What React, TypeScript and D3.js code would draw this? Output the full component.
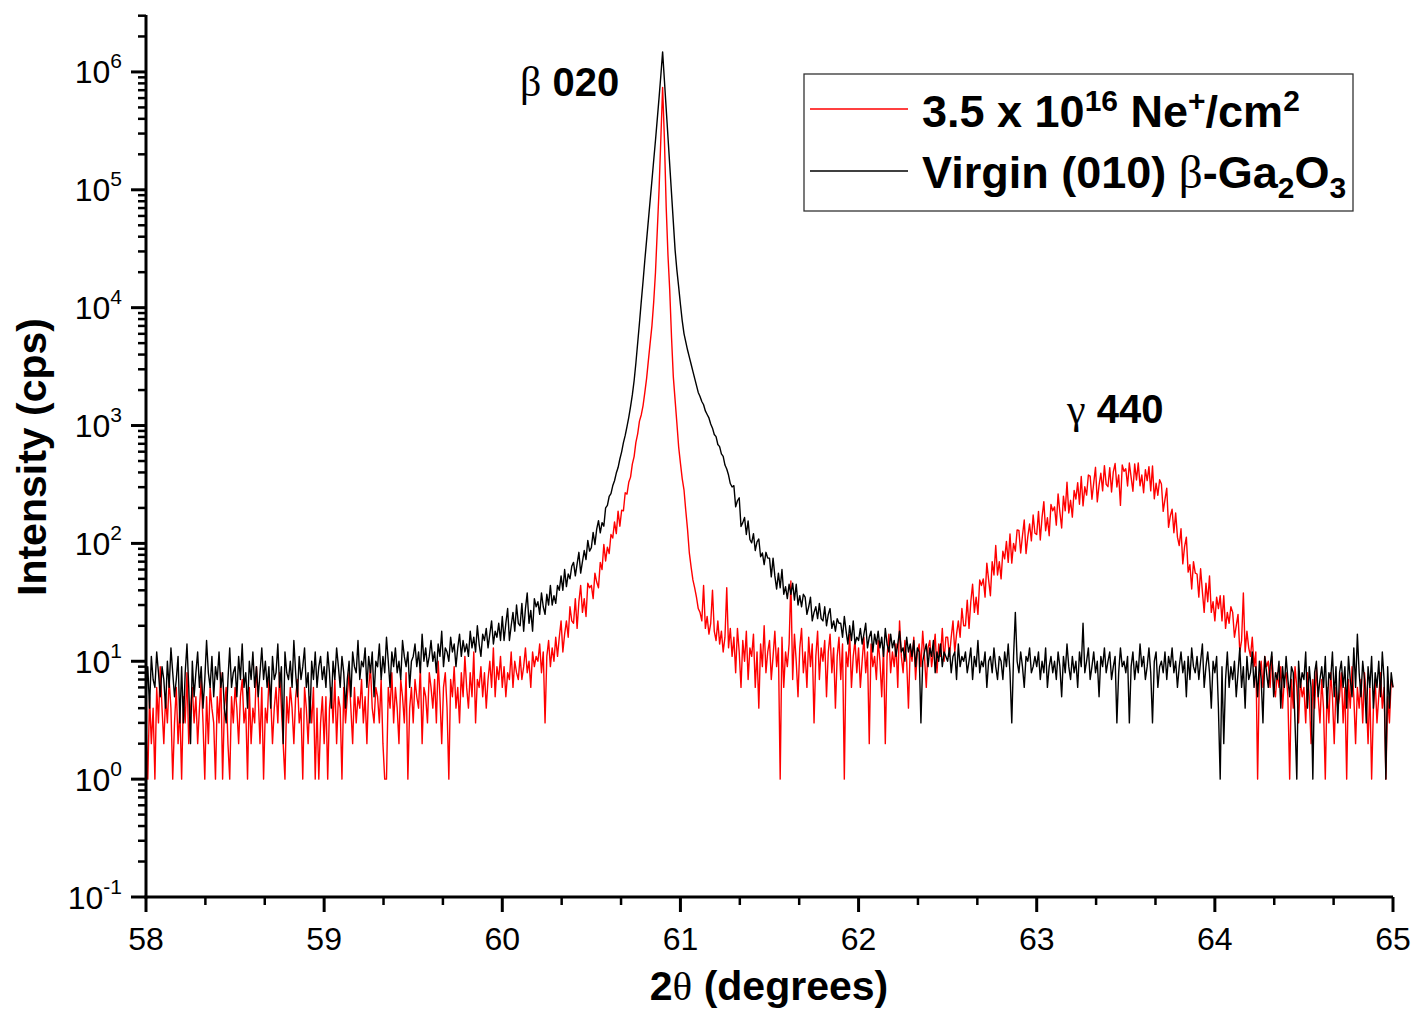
import React from 'react';
import * as d3 from 'd3';

// Sampling grid of the scans (2θ start and step, degrees)
const X_START = 58;
const X_STEP = 0.01;

// Virgin (010) β-Ga2O3 — intensity (cps), one array per degree (0.01° steps)
const virgin58 = [
  5, 9, 4, 11, 7, 6, 12, 8, 5, 9,
  7, 4, 10, 6, 13, 8, 5, 7, 11, 3,
  9, 3, 8, 14, 6, 2, 10, 5, 8, 12,
  6, 9, 4, 7, 15, 8, 6, 11, 5, 9,
  7, 12, 6, 8, 4, 3, 7, 13, 6, 8,
  9, 5, 11, 7, 14, 6, 8, 4, 10, 7,
  12, 6, 9, 5, 8, 13, 7, 10, 6, 9,
  4, 11, 7, 8, 14, 6, 9, 2, 12, 8,
  7, 10, 6, 15, 8, 5, 11, 7, 9, 13,
  6, 8, 3, 10, 7, 12, 6, 9, 11, 7,
];
const virgin59 = [
  9, 6, 12, 8, 4, 10, 7, 13, 9, 6,
  11, 8, 4, 7, 10, 5, 12, 9, 8, 15,
  7, 10, 9, 13, 6, 11, 8, 12, 5, 10,
  9, 14, 7, 11, 8, 16, 10, 6, 12, 9,
  13, 8, 10, 7, 15, 11, 9, 12, 6, 10,
  11, 14, 9, 12, 8, 17, 10, 13, 9, 11,
  15, 10, 12, 8, 14, 11, 18, 9, 13, 12,
  10, 16, 12, 14, 9, 13, 17, 11, 15, 12,
  14, 11, 18, 13, 16, 12, 20, 14, 11, 17,
  15, 19, 13, 17, 22, 14, 18, 16, 21, 15,
];
const virgin60 = [
  24, 15, 21, 28, 15, 20, 26, 18, 30, 21,
  20, 31, 18, 28, 38, 21, 27, 18, 34, 29,
  32, 25, 38, 29, 25, 37, 30, 44, 30, 36,
  31, 44, 40, 53, 40, 60, 43, 55, 50, 64,
  69, 53, 67, 84, 56, 70, 87, 73, 106, 86,
  92, 124, 98, 132, 156, 123, 150, 140, 200, 210,
  250, 264, 308, 340, 395, 440, 520, 598, 715, 825,
  977, 1175, 1445, 1820, 2400, 3390, 5010, 7410, 11200, 16600,
  25100, 37200, 55000, 81300, 120000, 178000, 263000, 398000, 603000, 933000,
  1480000, 851000, 490000, 282000, 162000, 93300, 53700, 30900, 20900, 15100,
];
const virgin61 = [
  10700, 7760, 6030, 5130, 4370, 3800, 3310, 2880, 2510, 2190,
  1910, 1760, 1600, 1500, 1330, 1240, 1160, 1030, 950, 840,
  805, 690, 662, 575, 548, 462, 428, 380, 322, 301,
  309, 204, 230, 244, 139, 150, 166, 119, 155, 108,
  101, 121, 87, 103, 109, 77, 83, 66, 84, 75,
  75, 52, 75, 53, 41, 56, 42, 60, 37, 43,
  34, 45, 37, 46, 33, 45, 30, 36, 29, 37,
  35, 25, 29, 35, 22, 26, 29, 23, 31, 23,
  22, 29, 20, 25, 28, 19, 22, 18, 23, 21,
  21, 16, 24, 18, 14, 20, 15, 22, 14, 16,
];
const virgin62 = [
  15, 19, 14, 17, 21, 13, 16, 18, 12, 17,
  14, 18, 13, 16, 11, 19, 14, 12, 17, 13,
  15, 11, 14, 18, 12, 13, 10, 16, 12, 14,
  11, 15, 9, 13, 12, 3, 10, 12, 14, 9,
  13, 11, 15, 8, 12, 10, 14, 9, 12, 11,
  10, 13, 8, 11, 12, 7, 14, 9, 11, 10,
  12, 8, 10, 13, 7, 11, 9, 15, 8, 10,
  9, 12, 6, 10, 11, 8, 13, 9, 7, 11,
  10, 7, 12, 9, 14, 8, 3, 11, 26, 10,
  8, 12, 9, 6, 11, 10, 13, 8, 9, 11,
];
const virgin63 = [
  9, 12, 7, 10, 8, 13, 6, 9, 11, 8,
  10, 7, 12, 9, 5, 11, 8, 14, 9, 7,
  11, 8, 10, 6, 12, 9, 21, 8, 10, 13,
  7, 9, 12, 8, 10, 5, 11, 9, 13, 8,
  10, 12, 7, 9, 11, 3, 8, 13, 9, 10,
  8, 11, 3, 9, 12, 7, 10, 8, 14, 9,
  11, 7, 9, 13, 8, 3, 10, 12, 6, 9,
  10, 8, 12, 7, 11, 9, 13, 8, 10, 6,
  9, 12, 8, 10, 5, 11, 7, 13, 9, 8,
  11, 7, 10, 14, 6, 9, 12, 8, 4, 10,
];
const virgin64 = [
  8, 11, 4, 1, 9, 2, 7, 12, 6, 9,
  7, 10, 5, 8, 13, 6, 9, 4, 11, 7,
  8, 12, 6, 9, 5, 10, 7, 3, 11, 8,
  6, 9, 12, 5, 8, 7, 10, 4, 9, 6,
  11, 7, 5, 9, 8, 3, 1, 10, 6, 8,
  7, 12, 4, 9, 6, 1, 8, 10, 5, 7,
  9, 6, 11, 4, 8, 7, 12, 5, 9, 3,
  8, 10, 6, 9, 4, 11, 7, 5, 13, 6,
  17, 8, 5, 10, 7, 3, 9, 6, 11, 4,
  8, 6, 10, 5, 12, 7, 1, 9, 4, 8,
  6,
];

// 3.5 x 10^16 Ne+/cm^2 — intensity (cps), one array per degree (0.01° steps)
const ne58 = [
  3, 1, 5, 2, 4, 1, 6, 3, 9, 4,
  2, 5, 3, 7, 4, 1, 3, 6, 2, 4,
  1, 5, 3, 8, 2, 4, 6, 3, 5, 2,
  4, 7, 3, 1, 5, 2, 6, 4, 3, 1,
  5, 3, 8, 1, 4, 6, 2, 1, 5, 3,
  6, 4, 2, 5, 7, 3, 4, 1, 6, 2,
  4, 3, 9, 5, 2, 6, 1, 4, 3, 7,
  5, 2, 4, 6, 3, 8, 4, 2, 1, 5,
  3, 6, 4, 2, 5, 7, 3, 4, 1, 6,
  4, 2, 5, 3, 6, 1, 4, 1, 3, 5,
];
const ne59 = [
  2, 5, 1, 4, 6, 3, 7, 2, 5, 4,
  1, 6, 3, 5, 8, 4, 2, 6, 3, 5,
  4, 7, 3, 5, 2, 6, 9, 4, 3, 6,
  5, 3, 7, 2, 1, 1, 6, 4, 8, 3,
  6, 4, 2, 7, 5, 3, 8, 1, 4, 6,
  3, 7, 5, 4, 9, 2, 6, 5, 3, 8,
  6, 4, 7, 3, 10, 5, 2, 6, 8, 4,
  1, 7, 5, 9, 4, 6, 3, 8, 5, 11,
  6, 4, 8, 5, 12, 3, 7, 6, 9, 5,
  8, 4, 7, 10, 6, 13, 5, 9, 7, 11,
];
const ne60 = [
  6, 9, 5, 8, 7, 12, 6, 10, 8, 7,
  11, 7, 9, 13, 8, 10, 6, 12, 9, 11,
  10, 14, 8, 12, 3, 11, 15, 9, 13, 10,
  16, 11, 16, 22, 12, 17, 22, 16, 29, 22,
  21, 34, 19, 32, 44, 26, 34, 24, 46, 42,
  44, 34, 56, 47, 42, 69, 60, 98, 71, 93,
  82, 119, 111, 152, 121, 188, 140, 191, 189, 269,
  262, 330, 365, 470, 545, 720, 850, 1090, 1230, 1470,
  1900, 2500, 3550, 5000, 7000, 11200, 20000, 44700, 100000, 270000,
  740000, 270000, 72000, 28000, 14000, 5600, 2600, 1650, 1050, 660,
];
const ne61 = [
  480, 355, 285, 190, 131, 83, 63, 49, 42, 35,
  28, 26, 22, 44, 19, 24, 17, 21, 40, 18,
  15, 22, 14, 18, 12, 16, 42, 13, 19, 11,
  16, 8, 19, 12, 6, 15, 10, 18, 7, 13,
  11, 17, 6, 12, 4, 14, 9, 20, 8, 12,
  15, 7, 11, 18, 9, 13, 1, 16, 6, 12,
  9, 14, 48, 7, 17, 10, 5, 13, 19, 8,
  12, 6, 16, 9, 14, 3, 11, 18, 7, 13,
  10, 15, 5, 12, 17, 8, 13, 4, 11, 16,
  7, 14, 1, 12, 9, 17, 6, 11, 15, 8,
];
const ne62 = [
  13, 6, 10, 16, 8, 12, 2, 14, 9, 11,
  7, 15, 10, 5, 13, 2, 11, 17, 8, 12,
  9, 14, 6, 22, 11, 8, 15, 10, 4, 13,
  10, 16, 7, 12, 14, 9, 18, 11, 6, 13,
  15, 9, 12, 17, 8, 14, 11, 19, 10, 16,
  16, 11, 16, 22, 12, 17, 22, 16, 28, 20,
  20, 33, 19, 32, 45, 26, 35, 25, 49, 44,
  50, 35, 68, 49, 36, 70, 54, 96, 54, 70,
  50, 86, 74, 104, 69, 120, 68, 100, 86, 130,
  129, 83, 116, 158, 82, 114, 146, 105, 174, 122,
];
const ne63 = [
  119, 187, 107, 167, 226, 128, 165, 116, 214, 189,
  204, 143, 263, 184, 135, 252, 189, 330, 181, 232,
  167, 281, 238, 328, 215, 370, 208, 302, 257, 380,
  373, 237, 326, 442, 225, 312, 394, 279, 457, 317,
  303, 439, 273, 405, 476, 301, 380, 210, 463, 408,
  430, 307, 481, 363, 277, 473, 345, 482, 308, 380,
  269, 422, 341, 448, 279, 453, 239, 324, 256, 347,
  319, 187, 236, 294, 137, 171, 195, 123, 181, 113,
  96, 133, 67, 94, 113, 57, 66, 41, 70, 56,
  55, 35, 61, 39, 26, 46, 32, 53, 26, 32,
];
const ne64 = [
  22, 35, 28, 36, 22, 36, 19, 26, 21, 29,
  26, 16, 20, 25, 12, 15, 38, 12, 18, 13,
  11, 16, 9, 12, 1, 8, 10, 6, 11, 9,
  10, 6, 11, 6, 5, 8, 6, 9, 4, 7,
  8, 5, 1, 7, 4, 9, 6, 3, 7, 5,
  6, 3, 8, 5, 2, 7, 4, 9, 5, 3,
  7, 4, 1, 6, 3, 8, 5, 2, 6, 4,
  5, 8, 3, 6, 1, 7, 4, 9, 5, 2,
  6, 4, 7, 3, 8, 5, 2, 6, 1, 4,
  7, 3, 5, 8, 4, 6, 1, 5, 3, 7,
  6,
];

const xMajorTicks = [58, 59, 60, 61, 62, 63, 64, 65];
const yDecadeExponents = [-1, 0, 1, 2, 3, 4, 5, 6];

const legendLabels = ['3.5 x 10', 'Virgin (010) '];
const peakLabels = [
  { greek: 'β', hkl: '020', x: 60.1, y: 6.2e5 },
  { greek: 'γ', hkl: '440', x: 63.17, y: 1050 },
];

const W = 1415;
const H = 1011;
const FONT = '"Liberation Sans", Arial, Helvetica, sans-serif';
const GREEK_FONT = '"Liberation Serif", "Times New Roman", serif';

function toPoints(segments: number[][]): [number, number][] {
  const vals = segments.flat();
  const start = Math.round(X_START / X_STEP);
  return vals.map((v, i) => [(start + i) * X_STEP, v]);
}

export default function App() {
  const x = d3.scaleLinear().domain([58, 65]).range([146, 1393]);
  const y = d3.scaleLog().domain([0.1, Math.pow(10, 6.483)]).range([897, 15]);

  const virgin = toPoints([virgin58, virgin59, virgin60, virgin61, virgin62, virgin63, virgin64]);
  const ne = toPoints([ne58, ne59, ne60, ne61, ne62, ne63, ne64]);

  const line = d3
    .line<[number, number]>()
    .x((d) => x(d[0]))
    .y((d) => y(d[1]));

  const xMinor: number[] = [];
  for (let a = 58; a < 65; a++) {
    xMinor.push(a + 1 / 3, a + 2 / 3);
  }
  const yMinor: number[] = [];
  const yMax = y.domain()[1];
  for (let e = -1; e <= 6; e++) {
    for (let k = 2; k <= 9; k++) {
      const v = k * Math.pow(10, e);
      if (v <= yMax) yMinor.push(v);
    }
  }

  const axisX = 146;
  const axisY = 897;

  return (
    <svg
      width={W}
      height={H}
      viewBox={`0 0 ${W} ${H}`}
      style={{ position: 'absolute', left: 0, top: 0, background: '#fff' }}
      fontFamily={FONT}
    >
      <rect x={0} y={0} width={W} height={H} fill="#fff" />

      {/* data */}
      <path d={line(ne) || ''} fill="none" stroke="#ff0000" strokeWidth={1.4} strokeLinejoin="round" />
      <path d={line(virgin) || ''} fill="none" stroke="#000" strokeWidth={1.4} strokeLinejoin="round" />

      {/* y axis */}
      <line x1={axisX} y1={15} x2={axisX} y2={axisY + 1.5} stroke="#000" strokeWidth={3} />
      {yMinor.map((v, i) => (
        <line key={'ym' + i} x1={axisX - 8} x2={axisX} y1={y(v)} y2={y(v)} stroke="#000" strokeWidth={2.5} />
      ))}
      {yDecadeExponents.map((e) => {
        const yy = y(Math.pow(10, e));
        return (
          <g key={'yM' + e}>
            <line x1={axisX - 15} x2={axisX} y1={yy} y2={yy} stroke="#000" strokeWidth={3} />
            <text x={122} y={yy + 11.5} textAnchor="end" fontSize={32} fill="#000">
              10
              <tspan dy={-15} fontSize={21}>
                {e < 0 ? '-' + Math.abs(e) : String(e)}
              </tspan>
            </text>
          </g>
        );
      })}

      {/* x axis */}
      <line x1={axisX - 1.5} y1={axisY} x2={1393} y2={axisY} stroke="#000" strokeWidth={3} />
      {xMinor.map((v, i) => (
        <line key={'xm' + i} x1={x(v)} x2={x(v)} y1={axisY} y2={axisY + 8} stroke="#000" strokeWidth={2.5} />
      ))}
      {xMajorTicks.map((t) => (
        <g key={'xM' + t}>
          <line x1={x(t)} x2={x(t)} y1={axisY} y2={axisY + 15} stroke="#000" strokeWidth={3} />
          <text x={x(t)} y={950} textAnchor="middle" fontSize={32} fill="#000">
            {t}
          </text>
        </g>
      ))}

      {/* axis titles */}
      <text x={769} y={1000} textAnchor="middle" fontSize={41} fontWeight="bold" fill="#000">
        2<tspan fontFamily={GREEK_FONT} fontWeight="normal">θ</tspan> (degrees)
      </text>
      <text
        transform="translate(46,457) rotate(-90)"
        textAnchor="middle"
        fontSize={41}
        fontWeight="bold"
        fill="#000"
      >
        Intensity (cps)
      </text>

      {/* peak annotations */}
      {peakLabels.map((p) => (
        <text key={p.hkl} x={x(p.x)} y={y(p.y)} fontSize={40} fontWeight="bold" fill="#000">
          <tspan fontFamily={GREEK_FONT} fontWeight="normal" fontSize={42}>
            {p.greek}
          </tspan>{' '}
          {p.hkl}
        </text>
      ))}

      {/* legend */}
      <rect x={804} y={74} width={549} height={137} fill="#fff" stroke="#333" strokeWidth={1.3} />
      <line x1={810} x2={908} y1={109} y2={109} stroke="#ff0000" strokeWidth={1.4} />
      <line x1={810} x2={908} y1={171} y2={171} stroke="#000" strokeWidth={1.4} />
      <text x={922} y={127} fontSize={45} fontWeight="bold" fill="#000">
        {legendLabels[0]}
        <tspan dy={-16} fontSize={30}>16</tspan>
        <tspan dy={16}> Ne</tspan>
        <tspan dy={-16} fontSize={30}>+</tspan>
        <tspan dy={16}>/cm</tspan>
        <tspan dy={-16} fontSize={30}>2</tspan>
      </text>
      <text x={922} y={188} fontSize={45} fontWeight="bold" fill="#000">
        {legendLabels[1]}
        <tspan fontFamily={GREEK_FONT} fontWeight="normal" fontSize={47}>β</tspan>
        <tspan>-Ga</tspan>
        <tspan dy={10} fontSize={30}>2</tspan>
        <tspan dy={-10}>O</tspan>
        <tspan dy={10} fontSize={30}>3</tspan>
      </text>
    </svg>
  );
}
